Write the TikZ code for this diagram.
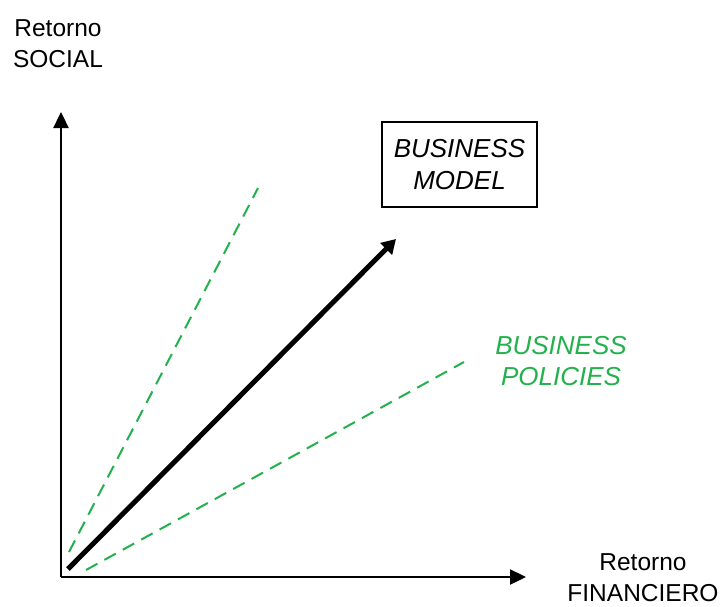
\documentclass[tikz,border=0pt]{standalone}
\usepackage{fontspec}
\setmainfont{Liberation Sans}
\usetikzlibrary{arrows.meta}
\usetikzlibrary{positioning}
\definecolor{verde}{RGB}{34,177,76}
\tikzset{
	eje/.style={line width=2.4pt, -{Triangle[length=16pt,width=15pt]}},
	vector/.style={line width=5pt, -{Triangle[length=14pt,width=16pt]}},
	guia/.style={verde, line width=2pt, dash pattern=on 13pt off 8pt},
	etiqueta/.style={align=center, font=\fontsize{24.5}{31}\selectfont, inner sep=0pt},
	caja/.style={draw, line width=2.2pt, minimum width=155pt, minimum height=85pt, align=center, font=\fontsize{26}{32}\selectfont\itshape}
}
\begin{document}
\begin{tikzpicture}[x=1pt,y=-1pt]
	\useasboundingbox (0,0) rectangle (725,606);

% ejes
	\coordinate (O) at (61,577);
	\coordinate (ysup) at (61,112);
	\coordinate (xder) at (526,577);
	\draw[eje] (O) -- (ysup);
	\draw[eje] (O) -- (xder);
	\node[etiqueta] (social) at (58,44) {Retorno\\SOCIAL};
	\node[etiqueta] (financiero) at (643,578) {Retorno\\FINANCIERO};

% vector principal
	\coordinate (v0) at (68,569);
	\coordinate (v1) at (396,239);
	\draw[vector] (v0) -- (v1);
	\node[caja] (model) at (459.5,164.5) {BUSINESS\\MODEL};

% rectas de referencia
	\coordinate (a0) at (69,552);
	\coordinate (a1) at (258,188);
	\coordinate (b0) at (86,570);
	\coordinate (b1) at (464,362);
	\draw[guia] (a0) -- (a1);
	\draw[guia] (b0) -- (b1);
	\node[etiqueta, verde, font=\fontsize{26}{31}\selectfont\itshape] (policies) at (561,361) {BUSINESS\\POLICIES};
\end{tikzpicture}
\end{document}
